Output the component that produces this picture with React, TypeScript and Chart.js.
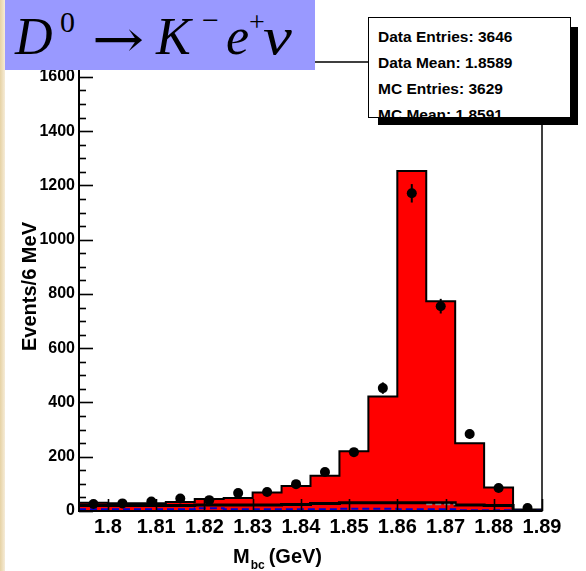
import React, { useEffect, useRef } from 'react';
import { Chart, registerables } from 'chart.js';

Chart.register(...registerables);

// ---- data ----
const binEdges = [1.794, 1.8, 1.806, 1.812, 1.818, 1.824, 1.83, 1.836, 1.842, 1.848, 1.854, 1.86, 1.866, 1.872, 1.878, 1.884, 1.89];
const binCenters = [1.797, 1.803, 1.809, 1.815, 1.821, 1.827, 1.833, 1.839, 1.845, 1.851, 1.857, 1.863, 1.869, 1.875, 1.881, 1.887];
const mcCounts = [30, 29, 29, 33, 44, 48, 68, 92, 130, 220, 422, 1253, 773, 250, 87, 3];
const dataCounts = [26, 28, 35, 46, 40, 66, 70, 99, 144, 217, 453, 1171, 755, 284, 85, 11];
const dataErrors = [5, 5, 6, 7, 6, 8, 8, 10, 12, 15, 21, 34, 27, 17, 9, 3];
const bkgCounts = [20, 20, 20, 20, 22, 22, 22, 24, 28, 30, 30, 30, 30, 22, 20, 4];
const blueCounts = [6, 6, 6, 6, 10, 6, 6, 6, 6, 8, 8, 6, 6, 3, 3, 1];
const grayEdges = [1.866, 1.872];
const grayCounts = [24];
const xTickValues = [1.8, 1.81, 1.82, 1.83, 1.84, 1.85, 1.86, 1.87, 1.88, 1.89];
const yTickValues = [0, 200, 400, 600, 800, 1000, 1200, 1400, 1600];
const xMin = 1.794;
const xMax = 1.89;
const yMax = 1655;
const statsLines = ['Data Entries: 3646', 'Data Mean: 1.8589', 'MC Entries: 3629', 'MC Mean: 1.8591'];

const SANS = '"Liberation Sans", Arial, Helvetica, sans-serif';
const SERIF = '"Liberation Serif", "DejaVu Serif", "Times New Roman", serif';

function stepPoints(edges: number[], counts: number[]) {
  const pts = counts.map((c, i) => ({ x: edges[i], y: c }));
  pts.push({ x: edges[counts.length], y: counts[counts.length - 1] });
  return pts;
}

const rootAxes = {
  id: 'rootAxes',
  afterDatasetsDraw(chart: any) {
    const { ctx, chartArea: a, scales } = chart;
    const x = scales.x;
    const y = scales.y;
    ctx.save();
    // error bars
    ctx.strokeStyle = '#000';
    ctx.lineWidth = 2;
    dataCounts.forEach((c, i) => {
      const px = x.getPixelForValue(binCenters[i]);
      ctx.beginPath();
      ctx.moveTo(px, y.getPixelForValue(Math.max(0, c - dataErrors[i])));
      ctx.lineTo(px, y.getPixelForValue(c + dataErrors[i]));
      ctx.stroke();
    });
    // frame
    ctx.lineWidth = 1.5;
    ctx.strokeRect(a.left, a.top, a.right - a.left, a.bottom - a.top);
    ctx.lineWidth = 2;
    ctx.beginPath();
    ctx.moveTo(a.left, a.top);
    ctx.lineTo(a.left, a.bottom);
    ctx.lineTo(a.right, a.bottom);
    ctx.stroke();
    // y ticks (inside)
    for (let v = 0; v <= yMax; v += 50) {
      const py = Math.round(y.getPixelForValue(v)) + 0.5;
      const major = v % 200 === 0;
      ctx.lineWidth = 1.6;
      ctx.beginPath();
      ctx.moveTo(a.left, py);
      ctx.lineTo(a.left + (major ? 14 : 7), py);
      ctx.stroke();
    }
    // x ticks (inside)
    xTickValues.forEach((v) => {
      const px = Math.round(x.getPixelForValue(v)) + 0.5;
      ctx.lineWidth = 1.6;
      ctx.beginPath();
      ctx.moveTo(px, a.bottom);
      ctx.lineTo(px, a.bottom - 12);
      ctx.stroke();
    });
    // x title with subscript
    ctx.fillStyle = '#000';
    ctx.textBaseline = 'alphabetic';
    ctx.textAlign = 'left';
    const x0 = a.left + 154;
    ctx.font = `bold 20px ${SANS}`;
    ctx.fillText('M', x0, 563);
    const wM = ctx.measureText('M').width;
    ctx.font = `bold 12px ${SANS}`;
    ctx.fillText('bc', x0 + wM + 1, 569);
    const wb = ctx.measureText('bc').width;
    ctx.font = `bold 20px ${SANS}`;
    ctx.fillText('(GeV)', x0 + wM + wb + 5, 563);
    ctx.restore();
  },
};

function Chip({ left, base, size, italic, family, sx, children }: any) {
  return (
    <span
      style={{
        position: 'absolute',
        left,
        top: base - 0.8375 * size,
        fontSize: size,
        lineHeight: `${size}px`,
        fontStyle: italic ? 'italic' : 'normal',
        fontFamily: family || SERIF,
        color: '#000',
        whiteSpace: 'nowrap',
        transform: sx ? `scaleX(${sx})` : undefined,
        transformOrigin: 'left center',
      }}
    >
      {children}
    </span>
  );
}

export default function App() {
  const ref = useRef<HTMLCanvasElement | null>(null);

  useEffect(() => {
    if (!ref.current) return;
    Chart.defaults.font.family = SANS;
    const chart = new Chart(ref.current, {
      type: 'line',
      data: {
        datasets: [
          {
            type: 'scatter',
            label: 'Data',
            data: binCenters.map((c, i) => ({ x: c, y: dataCounts[i] })),
            pointRadius: 5,
            pointBackgroundColor: '#000',
            pointBorderColor: '#000',
            pointBorderWidth: 0,
            showLine: false,
            order: 0,
          } as any,
          {
            label: 'gray',
            data: stepPoints(grayEdges, grayCounts),
            stepped: 'before',
            borderColor: '#888888',
            borderWidth: 1.5,
            borderDash: [6, 3],
            pointRadius: 0,
            fill: false,
            order: 1,
          },
          {
            label: 'blue',
            data: stepPoints(binEdges, blueCounts),
            stepped: 'before',
            borderColor: '#0000cc',
            borderWidth: 2,
            borderDash: [7, 4],
            pointRadius: 0,
            fill: false,
            order: 2,
          },
          {
            label: 'bkg',
            data: stepPoints(binEdges, bkgCounts),
            stepped: 'before',
            borderColor: '#000',
            borderWidth: 3,
            pointRadius: 0,
            fill: false,
            order: 3,
          },
          {
            label: 'MC',
            data: stepPoints(binEdges, mcCounts),
            stepped: 'before',
            borderColor: '#000',
            borderWidth: 2,
            backgroundColor: '#ff0000',
            pointRadius: 0,
            fill: 'origin',
            order: 4,
          },
        ],
      },
      options: {
        animation: false,
        responsive: false,
        devicePixelRatio: 1,
        layout: { padding: { left: 8, right: 44, top: 62, bottom: 0 } },
        plugins: { legend: { display: false }, tooltip: { enabled: false } },
        scales: {
          x: {
            type: 'linear',
            min: xMin,
            max: xMax,
            grid: { display: false, drawTicks: false },
            border: { display: false },
            ticks: {
              color: '#000',
              font: { size: 20, weight: 'bold', family: SANS },
              padding: 4,
              maxRotation: 0,
              autoSkip: false,
              callback: (v: any) => String(+Number(v).toFixed(2)),
            },
            afterBuildTicks: (s: any) => {
              s.ticks = xTickValues.map((v) => ({ value: v }));
            },
            afterFit: (s: any) => {
              s.height = 60;
            },
          },
          y: {
            type: 'linear',
            min: 0,
            max: yMax,
            grid: { display: false, drawTicks: false },
            border: { display: false },
            ticks: {
              color: '#000',
              font: { size: 16, weight: 'bold', family: SANS },
              padding: 4,
              autoSkip: false,
              callback: (v: any) => String(v),
            },
            afterBuildTicks: (s: any) => {
              s.ticks = yTickValues.map((v) => ({ value: v }));
            },
            afterFit: (s: any) => {
              s.width = 71;
            },
            title: {
              display: true,
              text: 'Events/6 MeV',
              color: '#000',
              font: { size: 20, weight: 'bold', family: SANS },
              padding: { top: 10, bottom: 0 },
            },
          },
        },
      },
      plugins: [rootAxes],
    } as any);
    return () => chart.destroy();
  }, []);

  return (
    <div style={{ position: 'absolute', left: 0, top: 0, width: 586, height: 571, background: '#fff', overflow: 'hidden' }}>
      <canvas ref={ref} width={586} height={571} style={{ position: 'absolute', left: 0, top: 0, display: 'block' }} />
      <div
        style={{
          position: 'absolute',
          left: 0,
          top: 0,
          width: 5,
          height: 571,
          background: 'linear-gradient(to right, #e6d2a4, #f6ecd8)',
        }}
      />
      {/* title box */}
      <div style={{ position: 'absolute', left: 5, top: 0, width: 310, height: 70, background: '#9999ff', overflow: 'hidden' }}>
        <Chip left={10} base={55} size={52} italic>D</Chip>
        <Chip left={55} base={32} size={30}>0</Chip>
        <Chip left={87} base={57} size={52} family={'"DejaVu Serif", serif'} sx={1.2}>→</Chip>
        <Chip left={151} base={55} size={52} italic>K</Chip>
        <Chip left={197} base={30} size={30}>−</Chip>
        <Chip left={221} base={55} size={52} italic>e</Chip>
        <Chip left={244} base={31} size={28}>+</Chip>
        <Chip left={258} base={55} size={52} italic sx={1.25}>ν</Chip>
      </div>
      {/* stats box */}
      <div style={{ position: 'absolute', left: 571, top: 27, width: 7, height: 98, background: '#000' }} />
      <div style={{ position: 'absolute', left: 378, top: 118, width: 200, height: 7, background: '#000' }} />
      <div
        style={{
          position: 'absolute',
          left: 368,
          top: 17,
          width: 201,
          height: 99,
          border: '1px solid #000',
          background: '#fff',
          overflow: 'hidden',
        }}
      >
        {statsLines.map((t, i) => (
          <div
            key={t}
            style={{
              position: 'absolute',
              left: 9,
              top: 6 + i * 26,
              height: 26,
              lineHeight: '26px',
              fontFamily: SANS,
              fontWeight: 'bold',
              fontSize: 15.5,
              color: '#000',
              whiteSpace: 'nowrap',
            }}
          >
            {t}
          </div>
        ))}
      </div>
    </div>
  );
}
